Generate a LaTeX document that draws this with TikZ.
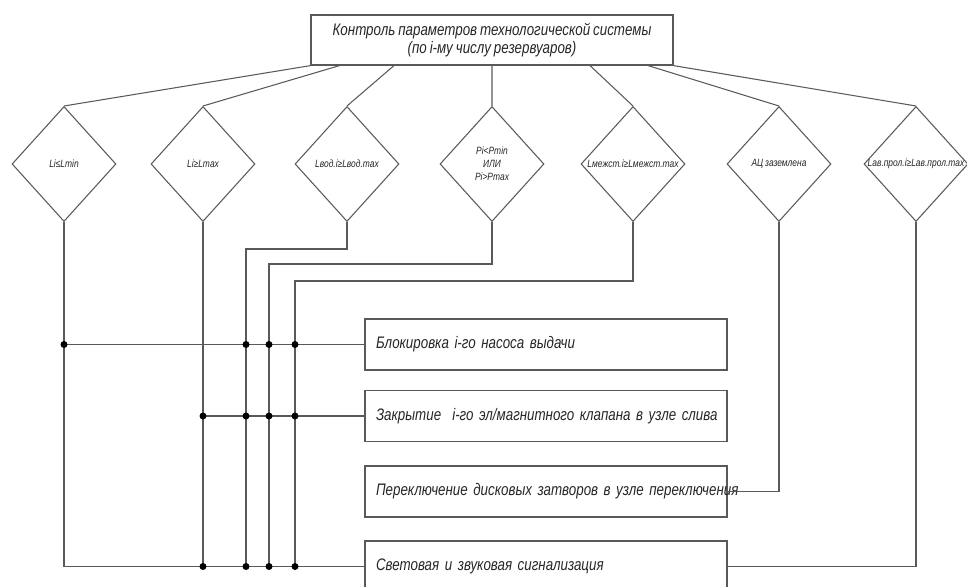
\documentclass[tikz,border=0pt]{standalone}
\usepackage{fontspec}
\setmainfont{Liberation Sans}[FakeStretch=0.8,WordSpace=0.8]
\usetikzlibrary{shapes.geometric,calc}

\begin{document}
\begin{tikzpicture}[
    x=0.02cm,y=-0.02cm,
    line/.style={draw=black!65,line width=0.6pt},
    head/.style={rectangle,draw=black!65,line width=0.7pt,minimum width=7.24cm,minimum height=1cm,align=center,text=black!85,font=\itshape\fontsize{9.5}{10.5}\selectfont},
    cond/.style={diamond,draw=black!65,line width=0.6pt,minimum width=2.08cm,minimum height=2.3cm,inner sep=0pt},
    condtext/.style={inner sep=0pt,align=center,text=black!85,font=\itshape\fontsize{6}{7.5}\selectfont},
    act/.style={rectangle,draw=black!65,line width=0.7pt,minimum width=7.24cm,minimum height=1.02cm,text width=6.8cm,align=left,text=black!85,font=\itshape\fontsize{9.5}{11}\selectfont},
    joint/.style={fill=black}
]
    \useasboundingbox (0,0) rectangle (967,586);

    % head block
    \node[head] (top) at (492,40) {Контроль параметров технологической системы\\(по i-му числу резервуаров)};

    % conditions
    \node[cond,label={[condtext]center:Li≤Lmin}] (d1) at (64,164) {};
    \node[cond,label={[condtext]center:Li≥Lmax}] (d2) at (203,164) {};
    \node[cond,label={[condtext]center:Lвод.i≥Lвод.max}] (d3) at (347,164) {};
    \node[cond,label={[condtext]center:{Pi<Pmin\\ИЛИ\\Pi>Pmax}}] (d4) at (492,164) {};
    \node[cond,label={[condtext]center:Lмежст.i≥Lмежст.max}] (d5) at (633,164) {};
    \node[cond,label={[condtext]center:АЦ заземлена}] (d6) at (779,164) {};
    \node[cond,label={[condtext]center:Lав.прол.i≥Lав.прол.max}] (d7) at (916,164) {};

    \foreach \f/\d in {0/d1,0.08/d2,0.23/d3,0.5/d4,0.77/d5,0.93/d6,1/d7}
        \draw[line] ($(top.south west)!\f!(top.south east)$) -- (\d.north);

    % actions
    \node[act] (b1) at (546,344.5) {Блокировка i-го насоса выдачи};
    \node[act] (b2) at (546,416) {\mbox{Закрытие~ i-го эл/магнитного клапана в узле слива}};
    \node[act] (b3) at (546,491.5) {\mbox{Переключение дисковых затворов в узле переключения}};
    \node[act] (b4) at (546,566.5) {Световая и звуковая сигнализация};

    % wiring
    \coordinate (j3) at (246,249);
    \coordinate (j4) at (269,264);
    \coordinate (j5) at (295,281);

    \draw[line] (d1.south) |- (b4.west);
    \draw[line] (d1.south |- b1.west) -- (b1.west);
    \draw[line] (d2.south) -- (d2.south |- b4.west);
    \draw[line] (d2.south |- b2.west) -- (b2.west);
    \draw[line] (d3.south) |- (j3) -- (j3 |- b4.west);
    \draw[line] (d4.south) |- (j4) -- (j4 |- b4.west);
    \draw[line] (d5.south) |- (j5) -- (j5 |- b4.west);
    \draw[line] (d6.south) |- (b3.east);
    \draw[line] (d7.south) |- (b4.east);

    \foreach \c in {d1.south,j3,j4,j5}
        \fill[joint] (\c |- b1.west) circle (0.07cm);
    \foreach \c in {d2.south,j3,j4,j5} {
        \fill[joint] (\c |- b2.west) circle (0.07cm);
        \fill[joint] (\c |- b4.west) circle (0.07cm);
    }

\end{tikzpicture}
\end{document}
